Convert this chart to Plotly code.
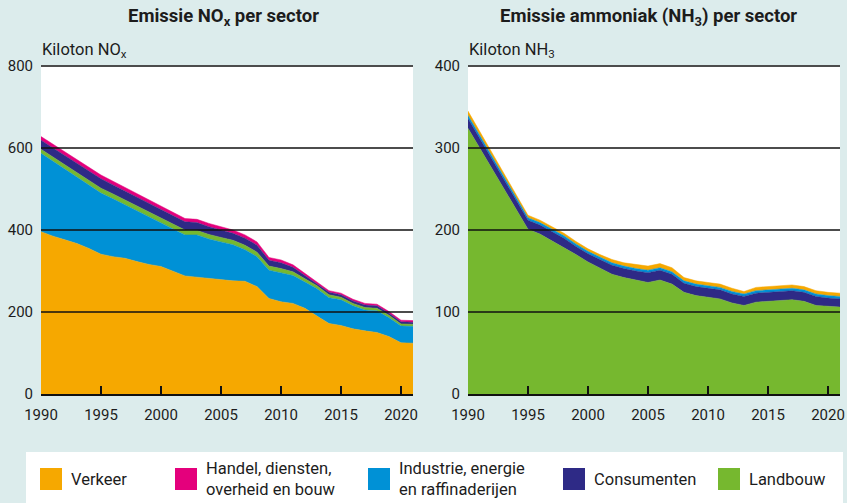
import plotly.graph_objects as go

# ---------------- data ----------------
years_nox = [1990, 1991, 1992, 1993, 1994, 1995, 1996, 1997, 1998, 1999,
             2000, 2001, 2002, 2003, 2004, 2005, 2006, 2007, 2008, 2009,
             2010, 2011, 2012, 2013, 2014, 2015, 2016, 2017, 2018, 2019,
             2020, 2021]
nox_verkeer = [396, 385, 376, 367, 355, 341, 335, 331, 323, 316,
               311, 300, 288, 285, 282, 279, 276, 275, 262, 233,
               225, 221, 209, 190, 172, 167, 159, 154, 150, 140,
               125, 124]
nox_industrie = [191, 183, 171, 162, 155, 149, 141, 130, 123, 116,
                 106, 101, 100, 103, 96, 92, 88, 77, 73, 69,
                 71, 68, 64, 67, 63, 63, 56, 51, 53, 46,
                 41, 41]
nox_landbouw = [10, 10, 11, 11, 11, 12, 12, 12, 12, 12,
                12, 12, 12, 11, 11, 11, 11, 11, 11, 10,
                10, 9, 8, 7, 7, 6, 6, 6, 6, 6,
                5, 5]
nox_consumenten = [22, 22, 23, 23, 23, 23, 22, 22, 22, 21,
                   21, 21, 20, 19, 19, 18, 17, 17, 17, 14,
                   14, 11, 8, 6, 6, 6, 6, 6, 6, 5,
                   5, 5]
nox_handel = [9, 9, 9, 9, 9, 9, 9, 9, 9, 9,
              9, 9, 8, 8, 8, 8, 8, 8, 8, 7,
              7, 6, 5, 4, 4, 4, 4, 4, 4, 4,
              4, 4]

years_nh3 = [1990, 1995, 1996, 1997, 1998, 1999, 2000, 2001, 2002, 2003,
             2004, 2005, 2006, 2007, 2008, 2009, 2010, 2011, 2012, 2013,
             2014, 2015, 2016, 2017, 2018, 2019, 2020, 2021]
nh3_landbouw = [324, 201, 195, 187, 179, 170, 161, 154, 146, 142,
                139, 136, 139, 134, 124, 120, 118, 116, 111, 108,
                112, 113, 114, 115, 113, 108, 107, 106]
nh3_consumenten = [12, 11, 11, 11, 11, 10, 10, 10, 11, 11,
                   11, 12, 12, 12, 11, 11, 11, 11, 11, 11,
                   11, 11, 11, 11, 11, 11, 10, 10]
nh3_industrie = [4, 3, 3, 3, 3, 3, 3, 3, 3, 3,
                 3, 3, 3, 3, 3, 3, 3, 3, 3, 3,
                 3, 3, 3, 3, 3, 3, 3, 3]
nh3_verkeer = [5, 3, 3, 3, 3, 3, 3, 3, 4, 4,
               5, 5, 5, 5, 4, 4, 4, 4, 4, 3,
               4, 4, 4, 4, 4, 4, 4, 4]

x_ticks = [1990, 1995, 2000, 2005, 2010, 2015, 2020]
nox_y_ticks = [0, 200, 400, 600, 800]
nh3_y_ticks = [0, 100, 200, 300, 400]

sector_labels = ["Verkeer", "Handel, diensten,<br>overheid en bouw",
                 "Industrie, energie<br>en raffinaderijen", "Consumenten", "Landbouw"]

title_left = "Emissie NO<sub>x</sub> per sector"
title_right = "Emissie ammoniak (NH<sub>3</sub>) per sector"
unit_left = "Kiloton NO<sub>x</sub>"
unit_right = "Kiloton NH<sub>3</sub>"

# ---------------- styles ----------------
COL = {
    "Verkeer": "#f6a800",
    "Handel": "#e4007c",
    "Industrie": "#0091d6",
    "Consumenten": "#2e2a86",
    "Landbouw": "#76b82f",
}
BG = "#dcecec"
FONT = "Roboto, Liberation Sans Narrow, DejaVu Sans Condensed, sans-serif"
TXT = "#1c1c1c"
W, H = 847, 503

def px_x(p):
    return p / W

def px_y(p):
    return 1 - p / H

fig = go.Figure()

def area(x, y, name, color, xa, ya, group):
    fig.add_trace(go.Scatter(
        x=x, y=y, name=name, mode="lines", stackgroup=group,
        line=dict(width=0.5, color=color), fillcolor=color,
        xaxis=xa, yaxis=ya, showlegend=False, hoverinfo="x+y+name"))

# NOx stack (bottom -> top)
area(years_nox, nox_verkeer, "Verkeer", COL["Verkeer"], "x", "y", "nox")
area(years_nox, nox_industrie, "Industrie", COL["Industrie"], "x", "y", "nox")
area(years_nox, nox_landbouw, "Landbouw", COL["Landbouw"], "x", "y", "nox")
area(years_nox, nox_consumenten, "Consumenten", COL["Consumenten"], "x", "y", "nox")
area(years_nox, nox_handel, "Handel", COL["Handel"], "x", "y", "nox")

# NH3 stack
area(years_nh3, nh3_landbouw, "Landbouw", COL["Landbouw"], "x2", "y2", "nh3")
area(years_nh3, nh3_consumenten, "Consumenten", COL["Consumenten"], "x2", "y2", "nh3")
area(years_nh3, nh3_industrie, "Industrie", COL["Industrie"], "x2", "y2", "nh3")
area(years_nh3, nh3_verkeer, "Verkeer", COL["Verkeer"], "x2", "y2", "nh3")

top_px = 65.0
bot_px = 394.0
ydom = [px_y(bot_px), px_y(top_px)]

xcommon = dict(range=[1990, 2021], tickvals=x_ticks, ticks="inside", ticklen=8,
               tickwidth=1.5, tickcolor="#111", showline=True, linecolor="#111",
               linewidth=2, showgrid=False, zeroline=False, layer="above traces",
               tickfont=dict(family=FONT, size=15, color=TXT),
               ticklabelstandoff=6, fixedrange=True, automargin=False)
ycommon = dict(ticks="", showline=False, showgrid=False, zeroline=False,
               tickfont=dict(family=FONT, size=15, color=TXT),
               ticklabelstandoff=7, fixedrange=True, automargin=False)

fig.update_layout(
    width=W, height=H,
    margin=dict(l=0, r=0, t=0, b=0, pad=0, autoexpand=False),
    paper_bgcolor=BG, plot_bgcolor="white",
    showlegend=False,
    xaxis=dict(domain=[px_x(41), px_x(413)], anchor="y", **xcommon),
    yaxis=dict(domain=ydom, anchor="x", range=[0, 800 * (bot_px - top_px) / (bot_px - 66)],
               tickvals=nox_y_ticks, **ycommon),
    xaxis2=dict(domain=[px_x(468), px_x(840)], anchor="y2", **xcommon),
    yaxis2=dict(domain=ydom, anchor="x2", range=[0, 400 * (bot_px - top_px) / (bot_px - 66)],
                tickvals=nh3_y_ticks, **ycommon),
)

shapes = []
for v in nox_y_ticks[1:]:
    shapes.append(dict(type="line", xref="x domain", yref="y", x0=0, x1=1, y0=v, y1=v,
                       line=dict(color="#111", width=1.5), layer="above"))
for v in nh3_y_ticks[1:]:
    shapes.append(dict(type="line", xref="x2 domain", yref="y2", x0=0, x1=1, y0=v, y1=v,
                       line=dict(color="#111", width=1.5), layer="above"))

annotations = []
annotations.append(dict(text="<b>" + title_left + "</b>", xref="paper", yref="paper",
                        x=px_x(223), y=px_y(17), xanchor="center", yanchor="middle",
                        showarrow=False, font=dict(family=FONT, size=18.5, color=TXT)))
annotations.append(dict(text="<b>" + title_right + "</b>", xref="paper", yref="paper",
                        x=px_x(648), y=px_y(17), xanchor="center", yanchor="middle",
                        showarrow=False, font=dict(family=FONT, size=18.5, color=TXT)))
annotations.append(dict(text=unit_left, xref="paper", yref="paper",
                        x=px_x(40), y=px_y(51), xanchor="left", yanchor="middle",
                        showarrow=False, font=dict(family=FONT, size=16.5, color=TXT)))
annotations.append(dict(text=unit_right, xref="paper", yref="paper",
                        x=px_x(467), y=px_y(51), xanchor="left", yanchor="middle",
                        showarrow=False, font=dict(family=FONT, size=16.5, color=TXT)))

# legend box
shapes.append(dict(type="rect", xref="paper", yref="paper",
                   x0=px_x(26), x1=px_x(843), y0=px_y(503), y1=px_y(452),
                   fillcolor="white", line=dict(width=0), layer="below"))
leg_colors = [COL["Verkeer"], COL["Handel"], COL["Industrie"], COL["Consumenten"], COL["Landbouw"]]
leg_x = [40, 175, 368, 563, 718]
for lx, lc, lt in zip(leg_x, leg_colors, sector_labels):
    shapes.append(dict(type="rect", xref="paper", yref="paper",
                       x0=px_x(lx), x1=px_x(lx + 22), y0=px_y(490), y1=px_y(468),
                       fillcolor=lc, line=dict(width=0)))
    annotations.append(dict(text=lt, xref="paper", yref="paper",
                            x=px_x(lx + 29), y=px_y(479), xanchor="left", yanchor="middle",
                            align="left", showarrow=False,
                            font=dict(family=FONT, size=16.5, color=TXT)))

fig.update_layout(shapes=shapes, annotations=annotations)
fig.write_html("out.html", config={"displayModeBar": False},
               post_script="document.body.style.margin='0px';document.body.style.overflow='hidden';")
